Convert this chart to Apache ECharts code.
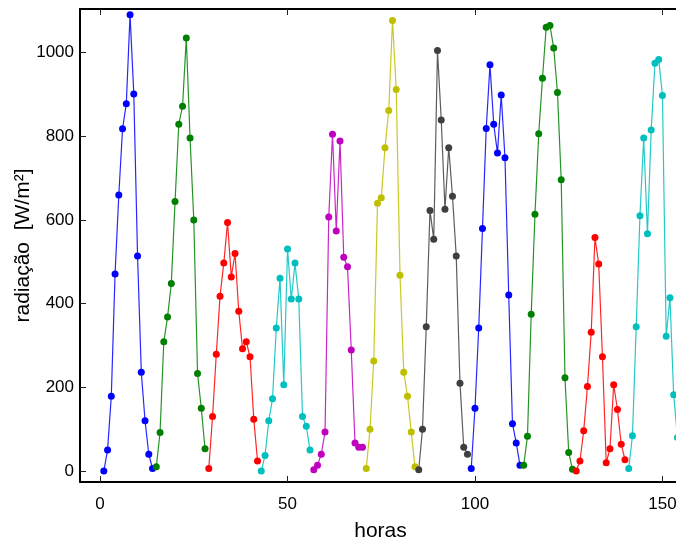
<!DOCTYPE html>
<html>
<head>
<meta charset="utf-8">
<script src="https://cdn.jsdelivr.net/npm/echarts@6/dist/echarts.min.js"></script>
<style>
  html, body { margin: 0; padding: 0; background: #fff; }
  #chart { width: 676px; height: 544px; }
</style>
</head>
<body>
<div id="chart"></div>
<script>
// Hourly solar radiation, 14 daylight hours per day, consecutive days.
const hoursPerDay = 14;
const dayStart = [1, 15, 29, 43, 57, 71, 85, 99, 113, 127, 141];

const day1  = [0, 50, 179, 471, 660, 818, 878, 1091, 901, 514, 236, 120, 40, 6];
const day2  = [10, 92, 309, 368, 448, 644, 829, 872, 1035, 796, 600, 233, 150, 53];
const day3  = [6, 130, 279, 418, 497, 594, 464, 520, 382, 292, 309, 273, 124, 24];
const day4  = [0, 37, 120, 173, 342, 461, 206, 531, 411, 497, 411, 130, 107, 50];
const day5  = [3, 14, 40, 93, 607, 805, 574, 789, 511, 488, 289, 67, 57, 57];
const day6  = [6, 100, 263, 640, 653, 773, 862, 1077, 912, 468, 236, 179, 93, 10];
const day7  = [3, 100, 345, 623, 554, 1005, 839, 626, 773, 657, 514, 210, 57, 40];
const day8  = [6, 150, 342, 580, 819, 971, 829, 760, 899, 749, 421, 113, 67, 14];
const day9  = [14, 83, 375, 614, 806, 939, 1061, 1065, 1011, 905, 696, 223, 44, 4];
const day10 = [0, 24, 96, 202, 332, 558, 495, 273, 20, 53, 206, 147, 64, 27];
const day11 = [6, 84, 345, 610, 796, 567, 815, 975, 984, 898, 322, 414, 182, 80];

const days = [day1, day2, day3, day4, day5, day6, day7, day8, day9, day10, day11];

const xTicks = [0, 50, 100, 150];
const yTicks = [0, 200, 400, 600, 800, 1000];

// colour cycle: blue, green, red, cyan, magenta, yellow, black
const palette = ['#0000ff', '#008000', '#ff0000', '#00bfbf', '#bf00bf', '#bfbf00', '#3f3f3f'];

const font = 'Liberation Sans, Arial, Helvetica, sans-serif';
const X_MIN = -5.35, X_MAX = 154.95;
const Y_MIN = -26.3, Y_MAX = 1104.5;

const series = days.map((vals, d) => ({
  type: 'line',
  xAxisIndex: 0,
  yAxisIndex: 0,
  data: vals.map((v, i) => [dayStart[d] + i, v]),
  symbol: 'circle',
  symbolSize: 7,
  showSymbol: true,
  clip: true,
  itemStyle: { color: palette[d % palette.length] },
  lineStyle: { color: palette[d % palette.length], width: 1.2, opacity: 0.85 },
  emphasis: { disabled: true },
  animation: false
}));

const axisLine = { show: true, onZero: false, lineStyle: { color: '#000', width: 2 } };
const tick = (vals) => ({ show: true, inside: true, length: 6, customValues: vals,
                          lineStyle: { color: '#222', width: 1 } });
const plain = (v) => String(v);

const chart = echarts.init(document.getElementById('chart'), null, { renderer: 'canvas' });
chart.setOption({
  backgroundColor: '#fff',
  animation: false,
  grid: { left: 80, top: 9, width: 601, height: 473, containLabel: false, outerBoundsMode: 'none' },
  xAxis: [
    {
      type: 'value', position: 'bottom', min: X_MIN, max: X_MAX,
      name: 'horas', nameLocation: 'middle', nameGap: 39, nameMoveOverlap: false,
      nameTextStyle: { fontFamily: font, fontSize: 21, color: '#000' },
      axisLine: axisLine, axisTick: tick(xTicks),
      axisLabel: { customValues: xTicks, formatter: plain, fontFamily: font, fontSize: 17, color: '#000', margin: 14 },
      splitLine: { show: false }
    },
    {
      type: 'value', position: 'top', min: X_MIN, max: X_MAX,
      axisLine: axisLine, axisTick: tick(xTicks),
      axisLabel: { show: false }, splitLine: { show: false }
    }
  ],
  yAxis: [
    {
      type: 'value', position: 'left', min: Y_MIN, max: Y_MAX,
      name: 'radiação  [W/m²]', nameLocation: 'middle', nameGap: 46, nameRotate: 90, nameMoveOverlap: false,
      nameTextStyle: { fontFamily: font, fontSize: 21, color: '#000' },
      axisLine: axisLine, axisTick: tick(yTicks),
      axisLabel: { customValues: yTicks, formatter: plain, fontFamily: font, fontSize: 17, color: '#000', margin: 6 },
      splitLine: { show: false }
    }
  ],
  series: series
});
</script>
</body>
</html>
